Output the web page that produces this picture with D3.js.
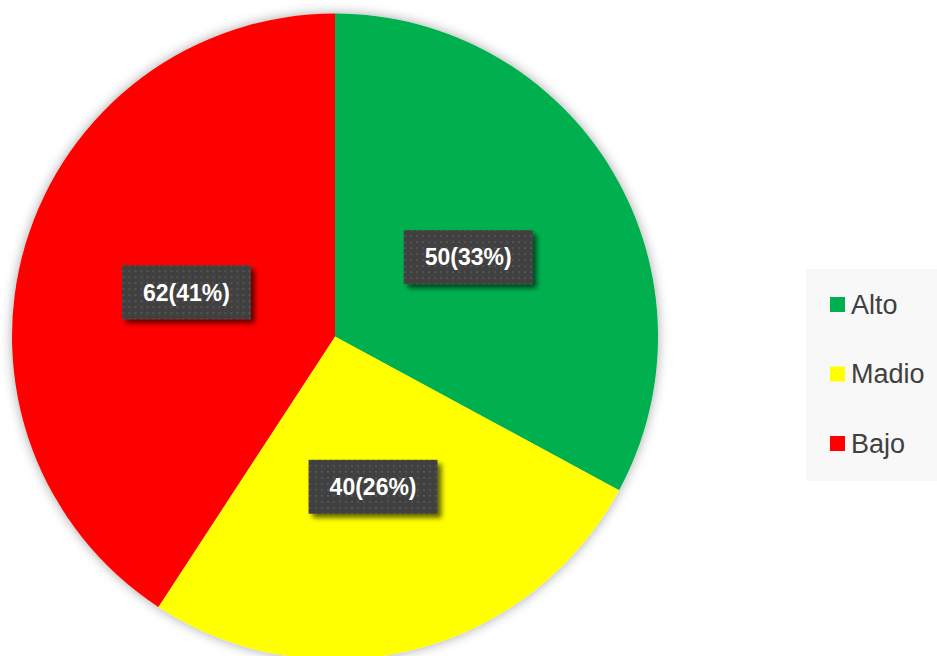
<!DOCTYPE html>
<html><head><meta charset="utf-8">
<script src="https://cdn.jsdelivr.net/npm/d3@7"></script>
<style>html,body{margin:0;padding:0;background:#fff;}svg{display:block;}</style>
</head><body>
<script>
const categories = ["Alto", "Madio", "Bajo"];
const values = [50, 40, 62];
const colors = ["#00B050", "#FFFF00", "#FF0000"];

const W = 937, H = 656;
const cx = 335, cy = 336.5, R = 323;

const svg = d3.select("body").append("svg").attr("width", W).attr("height", H);
const defs = svg.append("defs");
const sh = defs.append("filter").attr("id", "pieShadow").attr("x", "-20%").attr("y", "-20%").attr("width", "140%").attr("height", "140%");
sh.append("feDropShadow").attr("dx", 0).attr("dy", 0).attr("stdDeviation", 6).attr("flood-color", "#000").attr("flood-opacity", 0.35);
const ls = defs.append("filter").attr("id", "lblShadow").attr("x", "-20%").attr("y", "-30%").attr("width", "150%").attr("height", "170%");
ls.append("feDropShadow").attr("dx", 4).attr("dy", 4).attr("stdDeviation", 2.5).attr("flood-color", "#000").attr("flood-opacity", 0.6);
const pat = defs.append("pattern").attr("id", "dots").attr("patternUnits", "userSpaceOnUse").attr("width", 6).attr("height", 6);
pat.append("rect").attr("width", 6).attr("height", 6).attr("fill", "#3f3f3f");
pat.append("rect").attr("x", 2).attr("y", 2).attr("width", 2).attr("height", 2).attr("fill", "#555");

const total = d3.sum(values);
const data = categories.map((c, i) => ({ cat: c, val: values[i], color: colors[i] }));
const pie = d3.pie().value(d => d.val).sort(null);
const arcs = pie(data);
const arc = d3.arc().innerRadius(0).outerRadius(R);
const labelArc = d3.arc().innerRadius(R * 0.48).outerRadius(R * 0.48);

const g = svg.append("g").attr("transform", `translate(${cx},${cy})`);
g.append("g").attr("filter", "url(#pieShadow)")
  .selectAll("path").data(arcs).join("path")
  .attr("d", arc).attr("fill", d => d.data.color);

const lg = g.append("g");
arcs.forEach(a => {
  const [x, y] = labelArc.centroid(a);
  const txt = `${a.data.val}(${Math.round(a.data.val / total * 100)}%)`;
  const grp = lg.append("g").attr("transform", `translate(${x},${y})`);
  const t = grp.append("text").attr("text-anchor", "middle").attr("dy", "0.36em")
    .attr("font-family", "'Liberation Sans', Arial, sans-serif").attr("font-weight", "bold")
    .attr("font-size", 23).attr("fill", "#fff").text(txt);
  const bb = t.node().getBBox();
  const bw = bb.width + 42, bh = 54;
  grp.insert("rect", "text").attr("x", -bw / 2).attr("y", -bh / 2).attr("width", bw).attr("height", bh)
    .attr("fill", "url(#dots)").attr("filter", "url(#lblShadow)");
});

// legend
const leg = svg.append("g");
leg.append("rect").attr("x", 806).attr("y", 269).attr("width", 131).attr("height", 212).attr("fill", "#f8f8f8");
const ly = d3.scalePoint().domain(categories).range([304.5, 443.5]);
categories.forEach((c, i) => {
  leg.append("rect").attr("x", 830).attr("y", ly(c) - 7.5).attr("width", 15).attr("height", 15).attr("fill", colors[i]);
  leg.append("text").attr("x", 851).attr("y", ly(c)).attr("dy", "0.35em")
    .attr("font-family", "'Liberation Sans', Arial, sans-serif").attr("font-size", 27).attr("fill", "#404040").text(c);
});
</script>
</body></html>
